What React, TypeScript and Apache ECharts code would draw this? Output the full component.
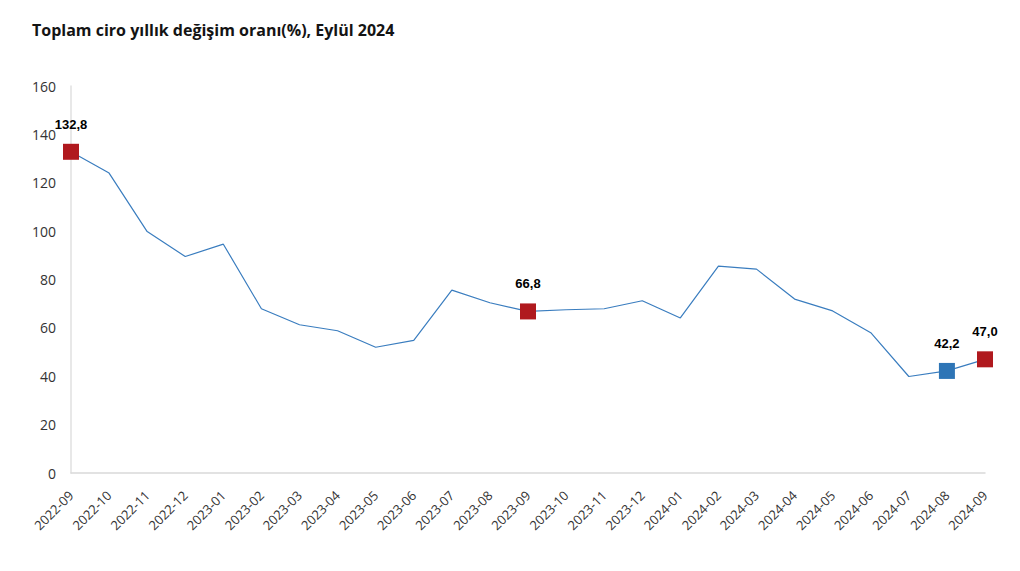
import React, { useEffect, useRef } from "react";
import * as echarts from "echarts";

const title = "Toplam ciro yıllık değişim oranı(%), Eylül 2024";

const months = [
  "2022-09", "2022-10", "2022-11", "2022-12", "2023-01", "2023-02", "2023-03",
  "2023-04", "2023-05", "2023-06", "2023-07", "2023-08", "2023-09", "2023-10",
  "2023-11", "2023-12", "2024-01", "2024-02", "2024-03", "2024-04", "2024-05",
  "2024-06", "2024-07", "2024-08", "2024-09",
];

const values = [
  132.8, 124.0, 99.8, 89.5, 94.6, 67.9, 61.3, 58.8, 52.0, 54.8, 75.6, 70.4,
  66.8, 67.5, 67.9, 71.2, 64.1, 85.5, 84.3, 71.9, 67.0, 58.0, 39.9, 42.2, 47.0,
];

const highlightMonths = ["2022-09", "2023-09", "2024-08", "2024-09"];
const highlightColors = ["#b0191e", "#b0191e", "#2e75b6", "#b0191e"];

const yTicks = [0, 20, 40, 60, 80, 100, 120, 140, 160];

export default function App() {
  const ref = useRef<HTMLDivElement>(null);

  useEffect(() => {
    if (!ref.current) return;
    const chart = echarts.init(ref.current, null, { renderer: "svg" });

    const markers = highlightMonths.map((m, i) => ({
      value: [m, values[months.indexOf(m)]],
      itemStyle: { color: highlightColors[i], opacity: 1 },
    }));

    chart.setOption({
      animation: false,
      backgroundColor: "#ffffff",
      title: {
        text: title,
        left: 27,
        top: 17,
        textStyle: {
          fontFamily: "Open Sans",
          fontWeight: "bold",
          fontSize: 16,
          color: "#141414",
        },
      },
      grid: {
        left: 71,
        right: 35,
        top: 86,
        bottom: 98,
        containLabel: false,
        outerBoundsMode: "none",
      },
      xAxis: {
        type: "category",
        data: months,
        boundaryGap: false,
        axisLine: { show: true, lineStyle: { color: "#d9d9d9", width: 1.5 } },
        axisTick: { show: false },
        splitLine: { show: false },
        axisLabel: {
          rotate: 45,
          interval: 0,
          margin: 20,
          fontFamily: "Open Sans",
          fontSize: 13,
          color: "#333333",
        },
      },
      yAxis: {
        type: "value",
        min: yTicks[0],
        max: yTicks[yTicks.length - 1],
        interval: 20,
        axisLine: { show: true, lineStyle: { color: "#e0e0e0", width: 1.5 } },
        axisTick: { show: false },
        splitLine: { show: false },
        axisLabel: {
          margin: 15,
          fontFamily: "Open Sans",
          fontSize: 14,
          color: "#333333",
        },
      },
      series: [
        {
          type: "line",
          data: values,
          symbol: "none",
          lineStyle: { color: "#3a7dbf", width: 1.2 },
          z: 2,
        },
        {
          type: "scatter",
          data: markers,
          symbol: "rect",
          symbolSize: 16,
          z: 3,
          itemStyle: { opacity: 1 },
          label: {
            show: true,
            position: "top",
            distance: 13,
            formatter: (p: any) => Number(p.value[1]).toFixed(1).replace(".", ","),
            fontFamily: "Liberation Sans",
            fontWeight: "bold",
            fontSize: 13,
            color: "#000000",
          },
        },
      ],
    });

    return () => chart.dispose();
  }, []);

  return (
    <div
      ref={ref}
      style={{ position: "fixed", left: 0, top: 0, width: 1020, height: 571 }}
    />
  );
}
